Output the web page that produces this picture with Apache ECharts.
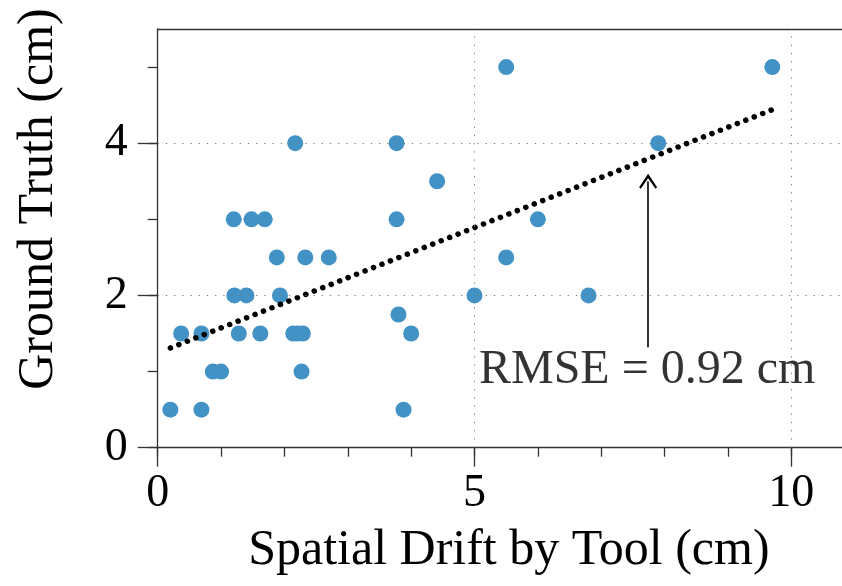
<!DOCTYPE html>
<html>
<head>
<meta charset="utf-8">
<script src="https://cdn.jsdelivr.net/npm/echarts@6/dist/echarts.min.js"></script>
<style>
html,body{margin:0;padding:0;background:#fff;}
#chart{width:842px;height:586px;}
</style>
</head>
<body>
<div id="chart"></div>
<script>
// Data
const driftX = [0.2, 0.37, 0.69, 0.69, 0.87, 1.0, 1.21, 1.40, 1.28, 1.62, 1.2, 1.48, 1.69, 1.88, 1.93, 2.33, 2.70, 2.14, 2.21, 2.29, 2.27, 2.17, 3.77, 3.77, 4.41, 5.5, 9.7, 7.9, 6.0, 5.5, 5.0, 6.8, 3.8, 4.0, 3.88];
const truthY = [0.5, 1.5, 1.5, 0.5, 1.0, 1.0, 2, 2, 1.5, 1.5, 3, 3, 3, 2.5, 2, 2.5, 2.5, 1.5, 1.5, 1.5, 1.0, 4, 4, 3, 3.5, 5, 5, 4, 3, 2.5, 2, 2, 1.75, 1.5, 0.5];
const trendX = [0.2, 9.7];
const trendY = [1.31, 4.44];
const arrowX = 7.74;
const arrowY = [1.32, 3.5];
const annotationPos = [5.07, 1.01];
const annotationText = 'RMSE = 0.92 cm';
const xMinorTicks = [0, 1, 2, 3, 4, 5, 6, 7, 8, 9, 10];
const xMajorTicks = [0, 5, 10];
const yMinorTicks = [0, 1, 2, 3, 4, 5];
const yMajorTicks = [0, 2, 4];
const xTitle = 'Spatial Drift by Tool (cm)';
const yTitle = 'Ground Truth (cm)';

const FONT = '"Liberation Serif", "DejaVu Serif", serif';
const AX = '#333';
const points = driftX.map((x, i) => [x, truthY[i]]);
const trend = trendX.map((x, i) => [x, trendY[i]]);

const chart = echarts.init(document.getElementById('chart'));
const baseX = {type: 'value', min: 0, max: 10.8, splitLine: {show: false}};
const baseY = {type: 'value', min: 0, max: 5.5, splitLine: {show: false}};
chart.setOption({
  animation: false,
  textStyle: {fontFamily: FONT, color: '#000'},
  grid: {left: 157.7, top: 29, right: 0, bottom: 138.3, containLabel: false},
  graphic: [{
    type: 'text', x: 39, y: 199, rotation: Math.PI / 2, silent: true,
    style: {text: yTitle, fontFamily: FONT, fontSize: 50, fill: '#000', align: 'center', verticalAlign: 'middle'}
  }],
  xAxis: [
    Object.assign({}, baseX, {
      position: 'bottom',
      axisLine: {show: true, lineStyle: {color: AX, width: 1.3}},
      axisTick: {show: true, customValues: xMinorTicks, length: 9, lineStyle: {color: AX, width: 1.3}},
      axisLabel: {show: false}
    }),
    Object.assign({}, baseX, {
      position: 'bottom',
      axisLine: {show: false},
      axisTick: {show: true, customValues: xMajorTicks, length: 19, lineStyle: {color: AX, width: 1.3}},
      axisLabel: {show: true, customValues: xMajorTicks, margin: 23, fontFamily: FONT, fontSize: 46, color: '#000'},
      name: xTitle, nameLocation: 'middle', nameGap: 78,
      nameTextStyle: {fontFamily: FONT, fontSize: 50, color: '#000', padding: [0, 0, 0, 18]}
    }),
    Object.assign({}, baseX, {
      position: 'top',
      axisLine: {show: true, lineStyle: {color: AX, width: 1.3}},
      axisTick: {show: false}, axisLabel: {show: false}
    })
  ],
  yAxis: [
    Object.assign({}, baseY, {
      position: 'left',
      axisLine: {show: true, lineStyle: {color: AX, width: 1.3}},
      axisTick: {show: true, customValues: yMinorTicks, length: 10, lineStyle: {color: AX, width: 1.3}},
      axisLabel: {show: false}
    }),
    Object.assign({}, baseY, {
      position: 'left',
      axisLine: {show: false},
      axisTick: {show: true, customValues: yMajorTicks, length: 20, lineStyle: {color: AX, width: 1.3}},
      axisLabel: {show: true, customValues: yMajorTicks, margin: 30, fontFamily: FONT, fontSize: 46, color: '#000'}
    })
  ],
  series: [
    {
      type: 'scatter', data: [], z: 1, silent: true,
      markLine: {
        silent: true, symbol: 'none', label: {show: false},
        lineStyle: {color: '#777', width: 1, type: [1.2, 7]},
        data: xMajorTicks.slice(1).map(v => ({xAxis: v})).concat(yMajorTicks.slice(1).map(v => ({yAxis: v})))
      }
    },
    {
      type: 'scatter', data: points, z: 2, symbolSize: 16,
      itemStyle: {color: '#4292c6', opacity: 1}
    },
    {
      type: 'line', data: trend, z: 3, symbol: 'none',
      lineStyle: {color: '#000', width: 5.5, type: [0.1, 9], cap: 'round'}
    },
    {
      type: 'line', data: [], z: 4, symbol: 'none',
      markLine: {
        silent: true, symbol: ['none', 'path://M9,0 L18,13.5 L16.4,15 L9,4.4 L1.6,15 L0,13.5 Z'],
        symbolSize: [18, 15], label: {show: false},
        lineStyle: {color: '#000', width: 1.6, type: 'solid'},
        data: [[{coord: [arrowX, arrowY[0]]}, {coord: [arrowX, arrowY[1]]}]]
      }
    },
    {
      type: 'scatter', data: [annotationPos], z: 5, symbolSize: 0, silent: true,
      label: {show: true, position: 'right', distance: 0, formatter: annotationText,
        fontFamily: FONT, fontSize: 48, color: '#000'}
    }
  ]
});
</script>
</body>
</html>
